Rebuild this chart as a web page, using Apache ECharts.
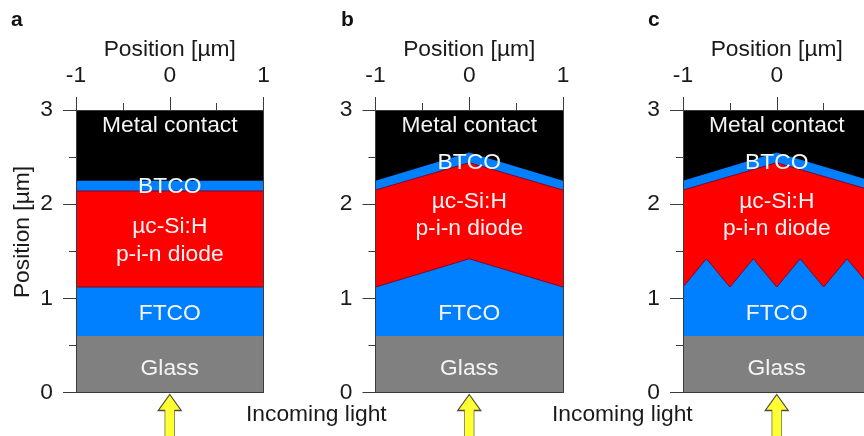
<!DOCTYPE html>
<html><head><meta charset="utf-8">
<style>html,body{margin:0;padding:0;background:#fff}#c{width:864px;height:436px}</style>
<script src="https://cdn.jsdelivr.net/npm/echarts@6/dist/echarts.min.js"></script>
</head><body><div id="c"></div>
<script>
// Data
const panelNames = ['a','b','c'];
const xFlat = [-1, 1];
const xPeak = [-1, 0, 1];
const xZig = [-1, -0.75, -0.5, -0.25, 0, 0.25, 0.5, 0.75, 1];
const metalTop = [3, 3];
const glassTop = [0.6, 0.6];
const btcoA = [2.25, 2.25];
const siA = [2.14, 2.14];
const ftcoA = [1.12, 1.12];
const btcoPeak = [2.25, 2.55, 2.25];
const siPeak = [2.15, 2.44, 2.15];
const ftcoPeak = [1.12, 1.42, 1.12];
const ftcoZig = [1.12, 1.42, 1.12, 1.42, 1.12, 1.42, 1.12, 1.42, 1.12];
const layerLabelsA = [['Metal contact',2.83],['BTCO',2.19],['\u00b5c-Si:H',1.76],['p-i-n diode',1.46],['FTCO',0.84],['Glass',0.25]];
const layerLabelsB = [['Metal contact',2.83],['BTCO',2.44],['\u00b5c-Si:H',2.025],['p-i-n diode',1.74],['FTCO',0.84],['Glass',0.25]];
const nameTop = 'Position [\u00b5m]';
const nameLeft = 'Position [\u00b5m]';
const lightLabel = 'Incoming light';

const zip = (xs, ys) => xs.map((x, i) => [x, ys[i]]);
const FONT = '"Liberation Sans", Arial, sans-serif';
const FS = 22.8;
const AX = '#3c3c3c', TXT = '#1a1a1a';
const lefts = [76, 375.5, 683];
const W = 187.5, TOP = 110, H = 282.5;

const panels = [
  {btco: zip(xFlat, btcoA), si: zip(xFlat, siA), ftco: zip(xFlat, ftcoA), labels: layerLabelsA},
  {btco: zip(xPeak, btcoPeak), si: zip(xPeak, siPeak), ftco: zip(xPeak, ftcoPeak), labels: layerLabelsB},
  {btco: zip(xPeak, btcoPeak), si: zip(xPeak, siPeak), ftco: zip(xZig, ftcoZig), labels: layerLabelsB}
];

const grid = [], xAxis = [], yAxis = [], series = [];
panels.forEach((p, i) => {
  grid.push({left: lefts[i], top: TOP, width: W, height: H, containLabel: false, outerBoundsMode: 'none'});
  const xMain = xAxis.length, yMain = yAxis.length;
  xAxis.push({
    gridIndex: i, type: 'value', position: 'top', min: -1, max: 1, interval: 1, z: 6,
    name: nameTop, nameLocation: 'middle', nameGap: 49, nameMoveOverlap: false,
    nameTextStyle: {fontFamily: FONT, fontSize: FS, color: TXT},
    axisLine: {show: true, onZero: false, lineStyle: {color: AX, width: 1}},
    axisTick: {show: true, length: 13, lineStyle: {color: AX, width: 1}},
    minorTick: {show: true, splitNumber: 2, length: 7, lineStyle: {color: AX, width: 1}},
    axisLabel: {show: true, margin: 23, fontFamily: FONT, fontSize: FS, color: TXT, showMinLabel: true, showMaxLabel: true},
    splitLine: {show: false}, minorSplitLine: {show: false}
  });
  xAxis.push({
    gridIndex: i, type: 'value', position: 'bottom', min: -1, max: 1, z: 6,
    axisLine: {show: true, onZero: false, lineStyle: {color: AX, width: 1}},
    axisTick: {show: false}, axisLabel: {show: false}, splitLine: {show: false}
  });
  yAxis.push({
    gridIndex: i, type: 'value', position: 'left', min: 0, max: 3, interval: 1, z: 6,
    axisLine: {show: true, onZero: false, lineStyle: {color: AX, width: 1}},
    axisTick: {show: true, length: 13, lineStyle: {color: AX, width: 1}},
    minorTick: {show: true, splitNumber: 2, length: 7, lineStyle: {color: AX, width: 1}},
    axisLabel: {show: true, margin: 23, fontFamily: FONT, fontSize: FS, color: TXT},
    splitLine: {show: false}, minorSplitLine: {show: false}
  });
  yAxis.push({
    gridIndex: i, type: 'value', position: 'right', min: 0, max: 3, z: 6,
    axisLine: {show: true, onZero: false, lineStyle: {color: AX, width: 1}},
    axisTick: {show: false}, axisLabel: {show: false}, splitLine: {show: false}
  });
  const layer = (name, data, color, edge) => series.push({
    name, type: 'line', xAxisIndex: xMain, yAxisIndex: yMain, data, symbol: 'none', silent: true,
    z: 2, animation: false,
    lineStyle: {color: edge || color, width: edge ? 1 : 0},
    areaStyle: {color, opacity: 1, origin: 'start'}
  });
  layer('Metal contact', zip(xFlat, metalTop), '#000000');
  layer('BTCO', p.btco, '#0080ff');
  layer('Si', p.si, '#ff0000', '#7a0a2a');
  layer('FTCO', p.ftco, '#0080ff', '#7a0a2a');
  layer('Glass', zip(xFlat, glassTop), '#808080');
  series.push({
    name: 'labels', type: 'scatter', xAxisIndex: xMain, yAxisIndex: yMain, silent: true, z: 8, animation: false,
    symbolSize: 1, itemStyle: {color: 'transparent'},
    data: p.labels.map(l => ({value: [0, l[1]], text: l[0]})),
    label: {show: true, position: 'inside', formatter: o => o.data.text, opacity: 1,
      fontFamily: FONT, fontSize: FS, color: '#f4f4f4', textBorderWidth: 0}
  });
  series.push({
    name: 'arrow', type: 'scatter', xAxisIndex: xMain, yAxisIndex: yMain, silent: true, z: 8, animation: false,
    clip: false, data: [[0, 0]],
    symbol: 'path://M12 0L24 16L17 16L17 60L7 60L7 16L0 16Z',
    symbolSize: [23, 60], symbolOffset: [0, 32],
    itemStyle: {color: '#ffff00', borderColor: '#222', borderWidth: 1}
  });
});

const letterStyle = t => ({fill: '#111', font: 'bold 21px ' + FONT, text: t});
const graphic = [
  {type: 'text', left: 11, top: 10, style: letterStyle(panelNames[0])},
  {type: 'text', left: 341, top: 10, style: letterStyle(panelNames[1])},
  {type: 'text', left: 648, top: 10, style: letterStyle(panelNames[2])},
  {type: 'text', x: 23, y: 232, rotation: Math.PI / 2, style: {text: nameLeft, fill: TXT, font: FS + 'px ' + FONT, align: 'center', verticalAlign: 'middle'}},
  {type: 'text', left: 246, top: 403, style: {text: lightLabel, fill: TXT, font: FS + 'px ' + FONT}},
  {type: 'text', left: 552, top: 403, style: {text: lightLabel, fill: TXT, font: FS + 'px ' + FONT}}
];

const chart = echarts.init(document.getElementById('c'), null, {renderer: 'canvas'});
chart.setOption({animation: false, backgroundColor: '#fff', tooltip: {show: false}, grid, xAxis, yAxis, series, graphic});
</script></body></html>
